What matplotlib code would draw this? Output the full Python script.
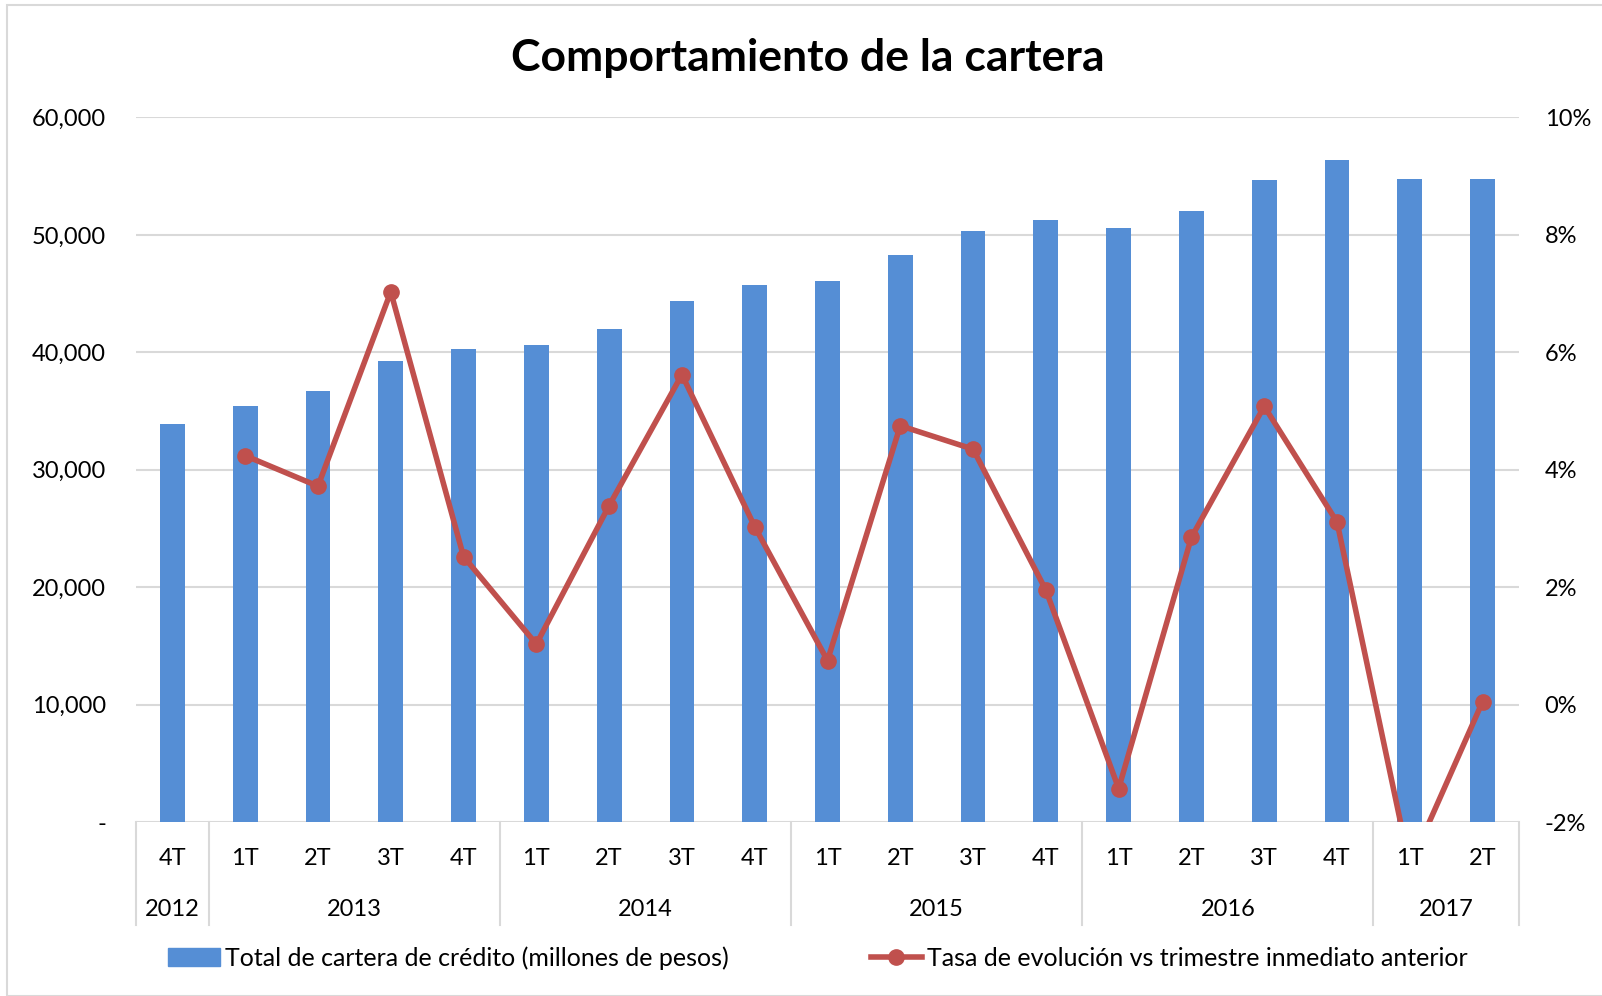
import matplotlib
matplotlib.use("Agg")
import matplotlib.pyplot as plt
import numpy as np
from matplotlib.patches import Rectangle
from matplotlib.lines import Line2D
from matplotlib.transforms import blended_transform_factory

plt.rcParams['font.family'] = ['Lato', 'DejaVu Sans']

quarters = ["4T", "1T", "2T", "3T", "4T", "1T", "2T", "3T", "4T", "1T", "2T", "3T", "4T",
            "1T", "2T", "3T", "4T", "1T", "2T"]
years = ["2012", "2013", "2014", "2015", "2016", "2017"]
year_counts = [1, 4, 4, 4, 4, 2]
cartera = [33900, 35400, 36700, 39300, 40300, 40600, 42000, 44350, 45750, 46100, 48250,
           50350, 51300, 50600, 52000, 54700, 56350, 54800, 54800]
tasa = [np.nan, 4.24, 3.72, 7.03, 2.52, 1.03, 3.39, 5.62, 3.03, 0.75, 4.75, 4.35, 1.95,
        -1.43, 2.85, 5.08, 3.11, -2.75, 0.05]

left_ticks = [0, 10000, 20000, 30000, 40000, 50000, 60000]
right_ticks = [-2, 0, 2, 4, 6, 8, 10]

BLUE = "#558ED5"
RED = "#C0504D"
GRID = "#D9D9D9"
FS = 17

W, H = 1602, 996
fig = plt.figure(figsize=(W / 100, H / 100), dpi=100)

# outer chart border
fig.add_artist(Rectangle((7 / W, 0), (W + 20) / W, 1 - 5 / H, transform=fig.transFigure,
                         fill=False, edgecolor="#D9D9D9", linewidth=1.5, clip_on=False))

x0, x1, ytop, ybot = 136, 1519, 117.5, 822
ax = fig.add_axes([x0 / W, 1 - ybot / H, (x1 - x0) / W, (ybot - ytop) / H])
n = len(cartera)
x = np.arange(n)
ax.bar(x, cartera, width=0.34, color=BLUE, zorder=2)
ax.set_xlim(-0.5, n - 0.5)
ax.set_ylim(0, 60000)
ax.set_yticks(left_ticks)
ax.set_yticklabels(["-" if v == 0 else f"{v:,.0f}" for v in left_ticks])
ax.tick_params(axis="y", length=0, pad=21.5, labelsize=FS)
ax.set_xticks([])
for s in ax.spines.values():
    s.set_visible(False)
ax.grid(axis="y", color=GRID, linewidth=1.5, zorder=0)
ax.set_axisbelow(True)

ax2 = ax.twinx()
ax2.plot(x, np.array(tasa) / 100, color=RED, linewidth=4, marker="o", markersize=11, zorder=3)
ax2.set_ylim(-0.02, 0.10)
ax2.set_yticks([t / 100 for t in right_ticks])
ax2.set_yticklabels([f"{t}%" for t in right_ticks])
ax2.tick_params(axis="y", length=0, pad=18.5, labelsize=FS)
for s in ax2.spines.values():
    s.set_visible(False)

# category axis (two levels)
tr = blended_transform_factory(ax.transData, ax.transAxes)
hpx = ybot - ytop
def yfrac(py):
    return (ybot - py) / hpx

for i, q in enumerate(quarters):
    ax.text(i, yfrac(858), q, transform=tr, ha="center", va="center", fontsize=FS, clip_on=False)
start = 0
bounds = [-0.5]
for yr, c in zip(years, year_counts):
    center = start + (c - 1) / 2
    ax.text(center, yfrac(909), yr, transform=tr, ha="center", va="center", fontsize=FS, clip_on=False)
    start += c
    bounds.append(start - 0.5)
for b in bounds:
    ax.add_line(Line2D([b, b], [0, yfrac(925)], transform=tr, color=GRID, linewidth=1.5, clip_on=False))

fig.text(808 / W, 1 - 58 / H, "Comportamiento de la cartera", ha="center", va="center",
         fontsize=32, fontweight="bold")

h1 = Rectangle((0, 0), 1, 1, color=BLUE)
h2 = Line2D([], [], color=RED, linewidth=4, marker="o", markersize=11)
fig.legend([h1, h2], ["Total de cartera de crédito (millones de pesos)",
                      "Tasa de evolución vs trimestre inmediato anterior"],
           loc="center", bbox_to_anchor=(818 / W, 1 - 958 / H), ncol=2, frameon=False,
           fontsize=18, handlelength=2.05, columnspacing=5.7, handletextpad=0.2)

fig.savefig("out.png", dpi=100)
